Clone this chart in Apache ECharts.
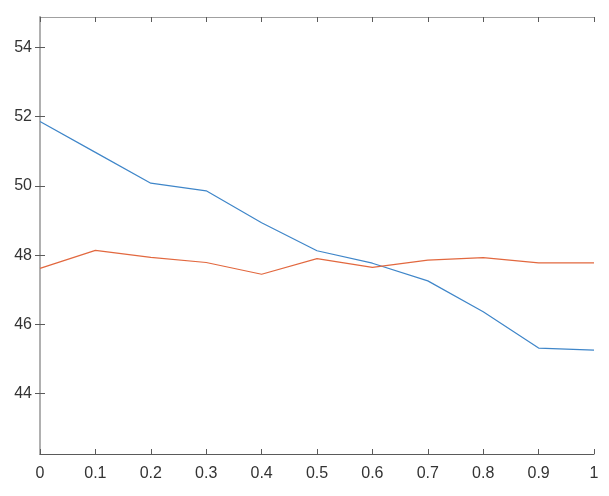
<!DOCTYPE html>
<html>
<head>
<meta charset="utf-8">
<script src="https://cdn.jsdelivr.net/npm/echarts@6/dist/echarts.min.js"></script>
<style>html,body{margin:0;padding:0;background:#fff;}#c{width:609px;height:496px;}</style>
</head>
<body>
<div id="c"></div>
<script>
var xValues = [0, 0.1, 0.2, 0.3, 0.4, 0.5, 0.6, 0.7, 0.8, 0.9, 1];
var seriesBlue = [51.86, 50.97, 50.08, 49.86, 48.94, 48.13, 47.77, 47.26, 46.37, 45.32, 45.26];
var seriesRed = [47.62, 48.14, 47.94, 47.79, 47.45, 47.90, 47.65, 47.86, 47.93, 47.78, 47.78];
var yTicks = [44, 46, 48, 50, 52, 54];
var xTicks = [0, 0.1, 0.2, 0.3, 0.4, 0.5, 0.6, 0.7, 0.8, 0.9, 1];
var yMin = 42.26, yMax = 54.88;

function pairs(xs, ys) { return xs.map(function (x, i) { return [x, ys[i]]; }); }

var font = { fontFamily: 'Liberation Sans, Arial, sans-serif', fontSize: 16, color: '#333333' };
var chart = echarts.init(document.getElementById('c'), null, { renderer: 'canvas' });
chart.setOption({
  animation: false,
  backgroundColor: '#fff',
  grid: { left: 40, right: 15, top: 17, bottom: 42, containLabel: false },
  xAxis: [
    {
      type: 'value', min: 0, max: 1, position: 'bottom',
      axisLine: { lineStyle: { color: '#5a5a5a', width: 1 } },
      axisTick: { inside: true, length: 5, customValues: xTicks, lineStyle: { color: '#5a5a5a' } },
      axisLabel: Object.assign({ customValues: xTicks, margin: 12, formatter: function (v) { return String(+v.toFixed(1)); } }, font),
      splitLine: { show: false }
    },
    {
      type: 'value', min: 0, max: 1, position: 'top',
      axisLine: { lineStyle: { color: '#a0a0a0', width: 1 } },
      axisTick: { inside: true, length: 5, customValues: xTicks, lineStyle: { color: '#5a5a5a' } },
      axisLabel: { show: false },
      splitLine: { show: false }
    }
  ],
  yAxis: [
    {
      type: 'value', min: yMin, max: yMax, position: 'left',
      axisLine: { show: true, lineStyle: { color: '#5a5a5a', width: 1 } },
      axisTick: { show: true, inside: true, length: 5, customValues: yTicks, lineStyle: { color: '#5a5a5a' } },
      axisLabel: Object.assign({ customValues: yTicks, margin: 8 }, font),
      splitLine: { show: false }
    },
    {
      type: 'value', min: yMin, max: yMax, position: 'right',
      axisLine: { show: true, lineStyle: { color: '#b0b0b0', width: 2 } },
      axisTick: { show: true, inside: true, length: 5, customValues: yTicks, lineStyle: { color: '#5a5a5a' } },
      axisLabel: { show: false },
      splitLine: { show: false }
    }
  ],
  series: [
    {
      type: 'line', xAxisIndex: 0, yAxisIndex: 0, data: pairs(xValues, seriesBlue),
      showSymbol: false, symbol: 'none', lineStyle: { color: '#3f86c9', width: 1.2 }
    },
    {
      type: 'line', xAxisIndex: 0, yAxisIndex: 0, data: pairs(xValues, seriesRed),
      showSymbol: false, symbol: 'none', lineStyle: { color: '#e2683f', width: 1.2 }
    }
  ]
});
</script>
</body>
</html>
